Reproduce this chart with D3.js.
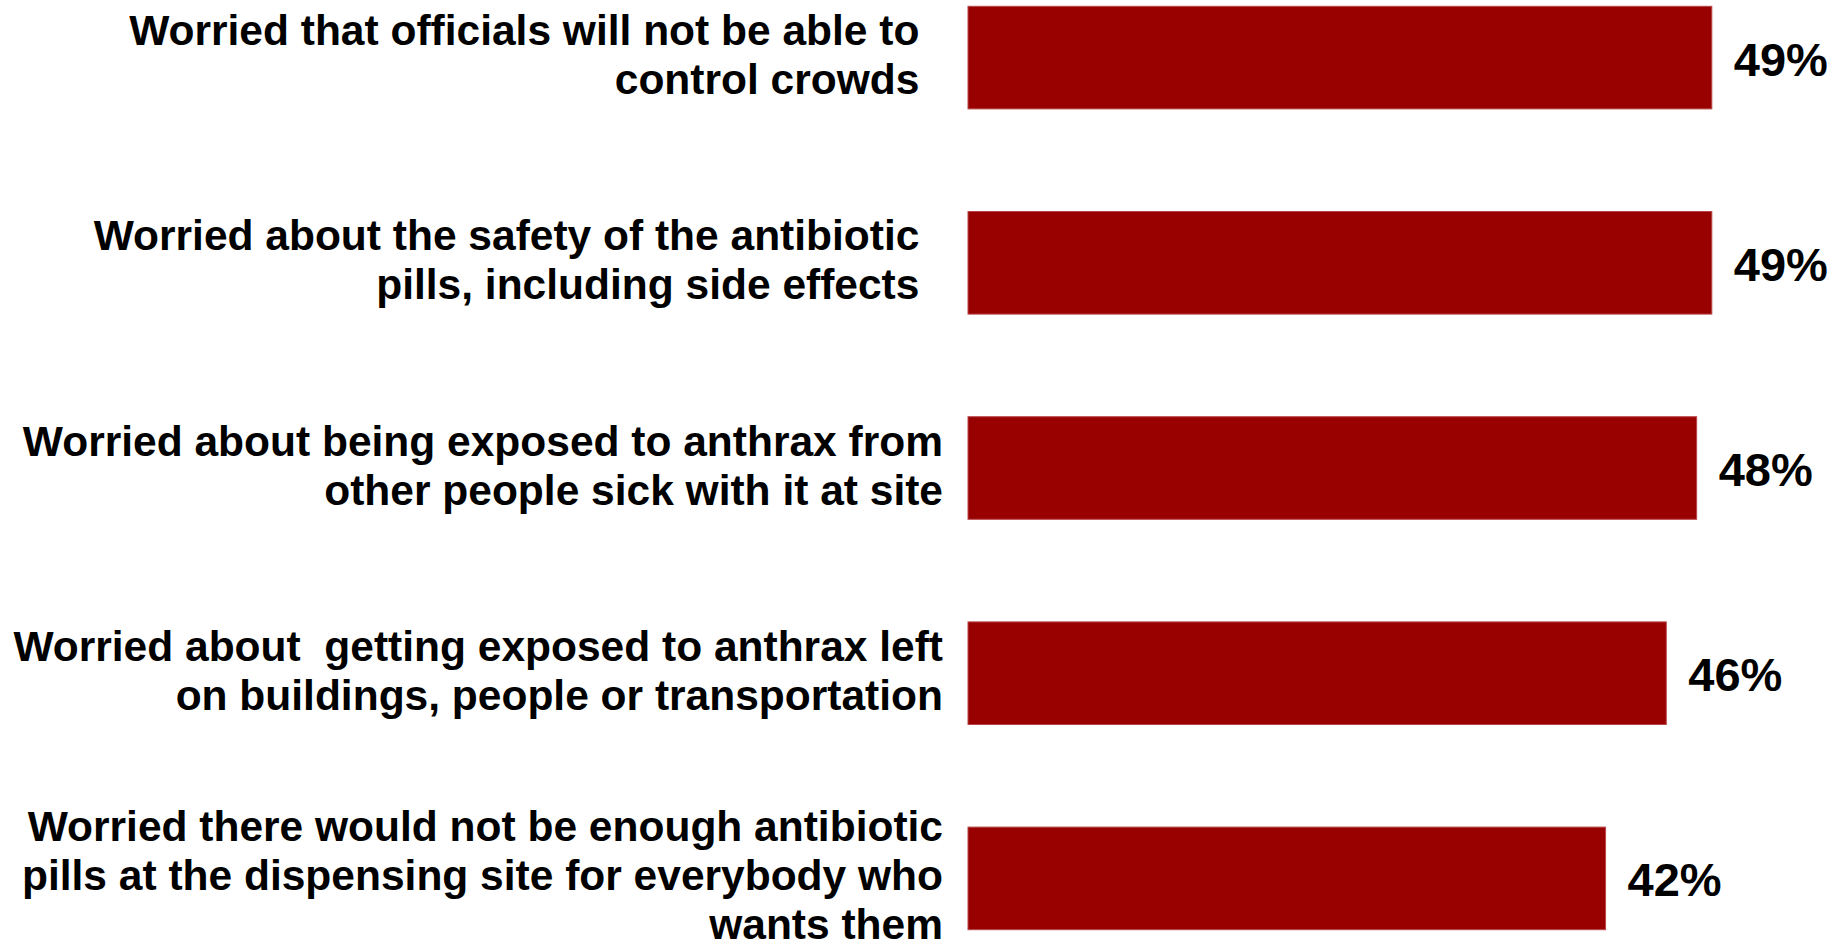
<!DOCTYPE html>
<html>
<head>
<meta charset="utf-8">
<script src="https://cdn.jsdelivr.net/npm/d3@7"></script>
<style>
  body { margin: 0; background: #fff; }
  text { font-family: "Liberation Sans", Arial, sans-serif; font-weight: bold; fill: #000; white-space: pre; }
</style>
</head>
<body>
<div id="chart"></div>
<script>
// each label is a list of its lines
var labels = [
  ["Worried that officials will not be able to\u00a0\u00a0", "control crowds\u00a0\u00a0"],
  ["Worried about the safety of the antibiotic\u00a0\u00a0", "pills, including side effects\u00a0\u00a0"],
  ["Worried about being exposed to anthrax from", "other people sick with it at site"],
  ["Worried about  getting exposed to anthrax left", "on buildings, people or transportation"],
  ["Worried there would not be enough antibiotic", "pills at the dispensing site for everybody who", "wants them"]
];
var values = [49, 49, 48, 46, 42];

var width = 1835, height = 944;
var lineH = 49;

var svg = d3.select('#chart').append('svg')
  .attr('width', width)
  .attr('height', height);

var y = d3.scaleBand()
  .domain(d3.range(values.length))
  .range([-45, 981])
  .paddingInner(0.5)
  .paddingOuter(0.25);

var x = d3.scaleLinear()
  .domain([0, 50])
  .range([968, 1727]);

var rows = svg.selectAll('.row')
  .data(values)
  .enter().append('g')
  .attr('class', 'row');

rows.append('rect')
  .attr('x', x(0))
  .attr('y', function(d, i) { return y(i); })
  .attr('width', function(d) { return x(d) - x(0); })
  .attr('height', y.bandwidth())
  .attr('fill', '#990000')
  .attr('stroke', '#b8474a')
  .attr('stroke-width', 1);

rows.append('text')
  .attr('x', function(d) { return x(d) + 22; })
  .attr('y', function(d, i) { return y(i) + y.bandwidth() / 2 + 18; })
  .style('font-size', '47px')
  .text(function(d) { return d + '%'; });

// category labels, right aligned against the bars
rows.append('text')
  .attr('text-anchor', 'end')
  .style('font-size', '42.5px')
  .each(function(d, i) {
    var lines = labels[i];
    var first = y(i) + y.bandwidth() / 2 + 12 - (lines.length - 1) * lineH / 2;
    d3.select(this).selectAll('tspan')
      .data(lines)
      .enter().append('tspan')
      .attr('x', x(0) - 25)
      .attr('y', function(l, j) { return first + j * lineH; })
      .text(function(l) { return l; });
  });
</script>
</body>
</html>
